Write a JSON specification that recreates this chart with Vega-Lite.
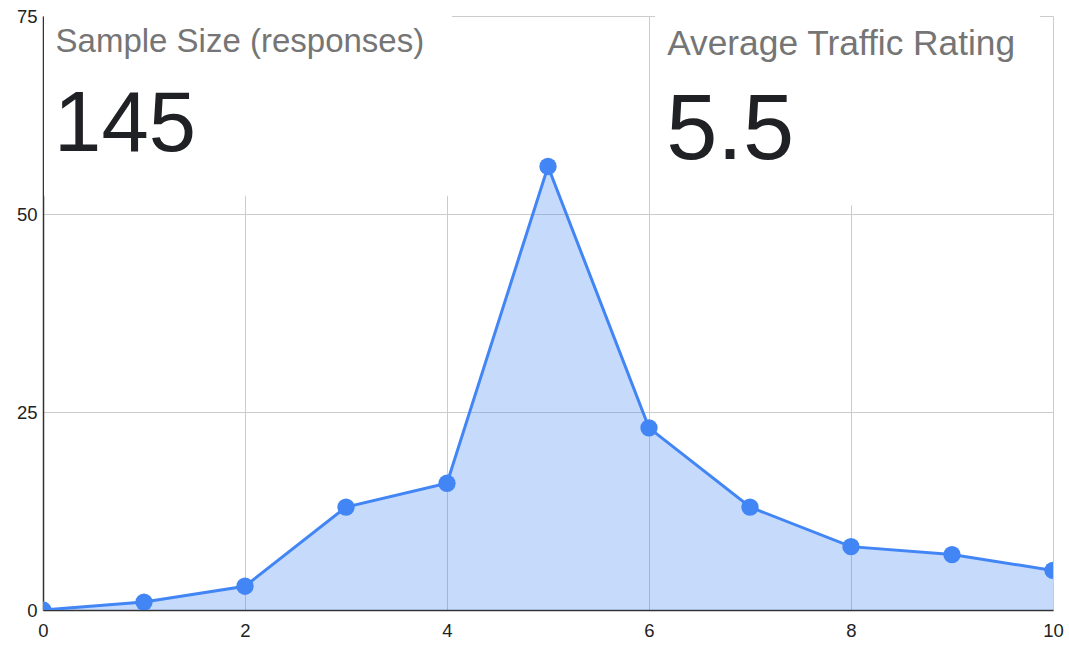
{
  "$schema": "https://vega.github.io/schema/vega-lite/v6.json",
  "width": 1010,
  "height": 594,
  "autosize": {"type": "none"},
  "padding": {"left": 43, "top": 16, "right": 16, "bottom": 36},
  "background": "white",
  "config": {"view": {"stroke": null}},
  "datasets": {
    "ratings": [
      {"rating": 0, "count": 0},
      {"rating": 1, "count": 1},
      {"rating": 2, "count": 3},
      {"rating": 3, "count": 13},
      {"rating": 4, "count": 16},
      {"rating": 5, "count": 56},
      {"rating": 6, "count": 23},
      {"rating": 7, "count": 13},
      {"rating": 8, "count": 8},
      {"rating": 9, "count": 7},
      {"rating": 10, "count": 5}
    ],
    "sizeCard": [{"title": "Sample Size (responses)", "value": "145"}],
    "avgCard": [{"title": "Average Traffic Rating", "value": "5.5"}]
  },
  "layer": [
    {
      "data": {"name": "ratings"},
      "mark": {"type": "area", "color": "#4285F4", "opacity": 0.3, "clip": true},
      "encoding": {
        "x": {
          "field": "rating", "type": "quantitative",
          "scale": {"domain": [0, 10], "nice": false},
          "axis": {
            "title": null, "values": [0, 2, 4, 6, 8, 10], "format": "d", "grid": true, "gridColor": "#cccccc", "gridWidth": 1,
            "domain": true, "domainColor": "#333333", "domainWidth": 1.5, "ticks": false,
            "labelFont": "Liberation Sans", "labelFontSize": 18.5, "labelColor": "#222222", "labelPadding": 11,
            "labelFlush": false, "labelOverlap": false
          }
        },
        "y": {
          "field": "count", "type": "quantitative",
          "scale": {"domain": [0, 75], "nice": false},
          "axis": {
            "title": null, "values": [0, 25, 50, 75], "format": "d", "grid": true, "gridColor": "#cccccc", "gridWidth": 1,
            "domain": true, "domainColor": "#333333", "domainWidth": 1.5, "ticks": false,
            "labelFont": "Liberation Sans", "labelFontSize": 18.5, "labelColor": "#222222", "labelPadding": 6,
            "labelFlush": false, "labelOverlap": false
          }
        }
      }
    },
    {
      "data": {"name": "ratings"},
      "mark": {"type": "line", "color": "#4285F4", "strokeWidth": 3, "clip": true},
      "encoding": {
        "x": {"field": "rating", "type": "quantitative"},
        "y": {"field": "count", "type": "quantitative"}
      }
    },
    {
      "data": {"name": "ratings"},
      "mark": {"type": "circle", "color": "#4285F4", "size": 300, "opacity": 1, "clip": true},
      "encoding": {
        "x": {"field": "rating", "type": "quantitative"},
        "y": {"field": "count", "type": "quantitative"}
      }
    },
    {
      "data": {"name": "sizeCard"},
      "mark": {"type": "rect", "fill": "white", "stroke": null},
      "encoding": {
        "x": {"datum": 0.01, "type": "quantitative"},
        "x2": {"datum": 4.05},
        "y": {"datum": 52.3, "type": "quantitative"},
        "y2": {"datum": 77}
      }
    },
    {
      "data": {"name": "avgCard"},
      "mark": {"type": "rect", "fill": "white", "stroke": null},
      "encoding": {
        "x": {"datum": 6.06, "type": "quantitative"},
        "x2": {"datum": 9.87},
        "y": {"datum": 51.1, "type": "quantitative"},
        "y2": {"datum": 77}
      }
    },
    {
      "data": {"name": "sizeCard"},
      "mark": {"type": "text", "font": "Liberation Sans", "fontSize": 33, "color": "#757575", "align": "left", "baseline": "alphabetic"},
      "encoding": {
        "x": {"datum": 0.124, "type": "quantitative"},
        "y": {"datum": 70.4, "type": "quantitative"},
        "text": {"field": "title"}
      }
    },
    {
      "data": {"name": "sizeCard"},
      "mark": {"type": "text", "font": "Liberation Sans", "fontSize": 85, "color": "#202124", "align": "left", "baseline": "alphabetic"},
      "encoding": {
        "x": {"datum": 0.11, "type": "quantitative"},
        "y": {"datum": 57.9, "type": "quantitative"},
        "text": {"field": "value"}
      }
    },
    {
      "data": {"name": "avgCard"},
      "mark": {"type": "text", "font": "Liberation Sans", "fontSize": 35.3, "color": "#757575", "align": "left", "baseline": "alphabetic"},
      "encoding": {
        "x": {"datum": 6.18, "type": "quantitative"},
        "y": {"datum": 70.1, "type": "quantitative"},
        "text": {"field": "title"}
      }
    },
    {
      "data": {"name": "avgCard"},
      "mark": {"type": "text", "font": "Liberation Sans", "fontSize": 92, "color": "#202124", "align": "left", "baseline": "alphabetic"},
      "encoding": {
        "x": {"datum": 6.17, "type": "quantitative"},
        "y": {"datum": 56.9, "type": "quantitative"},
        "text": {"field": "value"}
      }
    }
  ]
}
